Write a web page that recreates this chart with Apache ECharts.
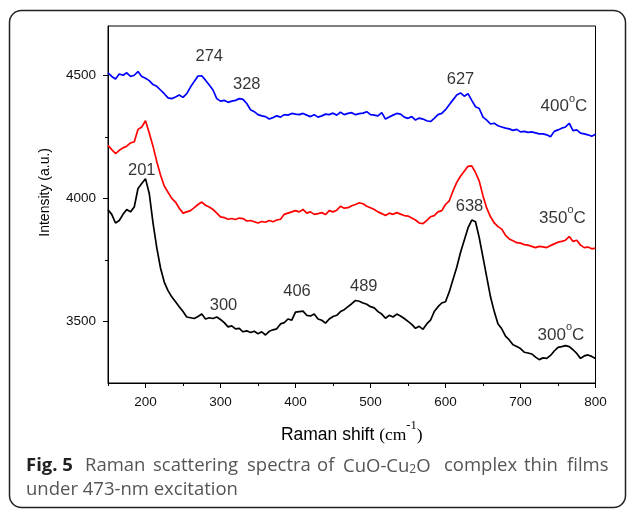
<!DOCTYPE html>
<html>
<head>
<meta charset="utf-8">
<script src="https://cdn.jsdelivr.net/npm/echarts@6/dist/echarts.min.js"></script>
<style>
html,body{margin:0;padding:0;background:#fff;}
#main{width:629px;height:511px;}
</style>
</head>
<body>
<div id="main"></div>
<script>
// Raman shift (cm-1)
var shift = [150,155,160,165,170,175,180,185,190,195,
	200,205,210,215,220,225,230,235,240,245,
	250,255,260,265,270,275,280,285,290,295,
	300,305,310,315,320,325,330,335,340,345,
	350,355,360,365,370,375,380,385,390,395,
	400,405,410,415,420,425,430,435,440,445,
	450,455,460,465,470,475,480,485,490,495,
	500,505,510,515,520,525,530,535,540,545,
	550,555,560,565,570,575,580,585,590,595,
	600,605,610,615,620,625,630,635,640,645,
	650,655,660,665,670,675,680,685,690,695,
	700,705,710,715,720,725,730,735,740,745,
	750,755,760,765,770,775,780,785,790,795,
	800];
// 400°C
var t400 = [4510,4495,4485,4505,4500,4510,4495,4500,4515,4495,
	4488,4478,4462,4455,4440,4425,4408,4405,4412,4420,
	4410,4425,4452,4475,4497,4498,4480,4460,4440,4405,
	4395,4398,4390,4395,4398,4405,4402,4385,4360,4352,
	4340,4335,4332,4322,4328,4335,4330,4340,4338,4345,
	4342,4340,4345,4338,4332,4340,4330,4335,4342,4340,
	4346,4338,4350,4340,4345,4348,4340,4344,4346,4352,
	4340,4338,4335,4348,4322,4330,4338,4345,4342,4330,
	4325,4332,4318,4326,4322,4315,4312,4325,4340,4345,
	4360,4380,4400,4420,4428,4415,4425,4398,4372,4365,
	4330,4318,4302,4305,4295,4290,4285,4282,4276,4280,
	4270,4272,4268,4270,4266,4262,4262,4258,4250,4272,
	4278,4285,4290,4305,4275,4278,4265,4262,4258,4252,
	4260];
// 350°C
var t350 = [4215,4198,4182,4195,4205,4212,4225,4230,4280,4290,
	4315,4265,4212,4150,4095,4050,4025,4000,3985,3960,
	3940,3945,3950,3962,3975,3985,3972,3965,3955,3940,
	3925,3922,3915,3918,3914,3920,3918,3908,3910,3905,
	3900,3906,3903,3910,3905,3912,3915,3935,3940,3945,
	3950,3945,3955,3940,3945,3935,3938,3942,3934,3950,
	3945,3952,3968,3960,3962,3970,3975,3982,3978,3968,
	3962,3955,3945,3938,3930,3940,3935,3942,3936,3930,
	3928,3920,3912,3900,3897,3910,3925,3930,3945,3950,
	3975,3990,4030,4065,4090,4110,4130,4132,4105,4070,
	4010,3960,3925,3900,3885,3875,3850,3835,3828,3820,
	3818,3812,3810,3805,3800,3805,3803,3800,3808,3815,
	3822,3825,3830,3845,3825,3830,3810,3800,3802,3795,
	3798];
// 300°C
var t300 = [3954,3935,3900,3910,3935,3955,3945,3965,4040,4060,
	4080,4020,3900,3800,3717,3660,3625,3600,3580,3560,
	3540,3518,3515,3512,3520,3530,3510,3515,3512,3518,
	3508,3495,3478,3482,3470,3472,3458,3462,3455,3460,
	3450,3458,3445,3460,3466,3470,3490,3495,3510,3505,
	3538,3540,3542,3525,3522,3530,3510,3505,3493,3510,
	3520,3525,3540,3548,3560,3572,3585,3582,3575,3570,
	3560,3555,3540,3530,3513,3525,3518,3530,3522,3512,
	3500,3488,3472,3480,3468,3490,3505,3540,3560,3575,
	3580,3620,3670,3720,3780,3830,3880,3912,3905,3840,
	3760,3680,3600,3540,3490,3470,3440,3425,3405,3398,
	3390,3375,3372,3368,3355,3345,3352,3350,3362,3380,
	3395,3398,3402,3398,3385,3370,3350,3360,3364,3358,
	3350];

var xMajor = [200,300,400,500,600,700,800];
var xMinor = [150,250,350,450,550,650,750];
var yMajor = [3500,4000,4500];
var yMinor = [3750,4250];

// 峰值标注: 文本, x, y
var peakText = ['274','328','627','201','638','300','406','489'];
var peakX = [285,335,620,195,632,304,402,491];
var peakY = [4577,4463,4484,4114,3967,3563,3622,3641];
// 温度标注
var tempText = ['400','350','300'];
var tempX = [758,756,754];
var tempY = [4382,3930,3455];

function pairs(xs, ys){
	var out = [];
	for (var i = 0; i < xs.length; i++) out.push([xs[i], ys[i]]);
	return out;
}

var myChart = echarts.init(document.getElementById('main'));

var peakData = [];
for (var i = 0; i < peakText.length; i++) {
	peakData.push({name: peakText[i], value: [peakX[i], peakY[i]]});
}
var tempData = [];
for (var j = 0; j < tempText.length; j++) {
	tempData.push({name: tempText[j], value: [tempX[j], tempY[j]]});
}

var tickFont = {color: '#111', fontFamily: 'Liberation Sans', fontSize: 13.5};
var capFont = '18.5px "Open Sans"';
var capColor = '#555';

function word(txt, x){
	return {type: 'text', x: x, y: 466, silent: true,
		style: {text: txt, fill: capColor, font: capFont, verticalAlign: 'middle'}};
}

var option = {
	animation: false,
	backgroundColor: '#fff',
	grid: {left: 108, right: 33.5, top: 26, bottom: 128, show: true, borderColor: '#000', borderWidth: 1},
	xAxis: [{
		type: 'value', min: 150, max: 800,
		axisLine: {lineStyle: {color: '#000', width: 1}},
		axisTick: {customValues: xMajor, length: 5, lineStyle: {color: '#000'}},
		axisLabel: Object.assign({customValues: xMajor, margin: 12, formatter: function(v){ return String(v); }}, tickFont),
		splitLine: {show: false},
		name: '{a|Raman shift }{b|(cm}{c|-1}{b|)}',
		nameLocation: 'middle', nameGap: 36,
		nameTextStyle: {
			rich: {
				a: {fontFamily: 'Liberation Sans', fontSize: 17.5, color: '#000', lineHeight: 25, verticalAlign: 'bottom'},
				b: {fontFamily: 'Liberation Serif', fontSize: 17.5, color: '#000', lineHeight: 25, verticalAlign: 'bottom'},
				c: {fontFamily: 'Liberation Serif', fontSize: 12.5, color: '#000', lineHeight: 12, verticalAlign: 'top'}
			}
		}
	}, {
		type: 'value', min: 150, max: 800, position: 'bottom',
		axisLine: {show: false},
		axisTick: {customValues: xMinor, length: 3, lineStyle: {color: '#000'}},
		axisLabel: {show: false},
		splitLine: {show: false}
	}],
	yAxis: [{
		type: 'value', min: 3250, max: 4700,
		axisLine: {show: true, lineStyle: {color: '#000', width: 1}},
		axisTick: {show: true, customValues: yMajor, length: 5, lineStyle: {color: '#000'}},
		axisLabel: Object.assign({customValues: yMajor, margin: 12, formatter: function(v){ return String(v); }}, tickFont),
		splitLine: {show: false}
	}, {
		type: 'value', min: 3250, max: 4700, position: 'left',
		axisLine: {show: false},
		axisTick: {show: true, customValues: yMinor, length: 3, lineStyle: {color: '#000'}},
		axisLabel: {show: false},
		splitLine: {show: false}
	}],
	series: [{
		name: '400°C', type: 'line', data: pairs(shift, t400), showSymbol: false,
		lineStyle: {color: '#0000ff', width: 1.7}, itemStyle: {color: '#0000ff'}
	}, {
		name: '350°C', type: 'line', data: pairs(shift, t350), showSymbol: false,
		lineStyle: {color: '#ff0000', width: 1.7}, itemStyle: {color: '#ff0000'}
	}, {
		name: '300°C', type: 'line', data: pairs(shift, t300), showSymbol: false,
		lineStyle: {color: '#000000', width: 1.7}, itemStyle: {color: '#000'}
	}, {
		type: 'scatter', data: peakData, symbolSize: 0, silent: true,
		label: {show: true, position: 'inside', formatter: '{b}', color: '#000',
			fontFamily: 'Liberation Sans', fontSize: 16.5}
	}, {
		type: 'scatter', data: tempData, symbolSize: 0, silent: true,
		label: {show: true, position: 'inside', formatter: '{n|{b}}{o|o}{n|C}',
			rich: {
				n: {fontFamily: 'Liberation Sans', fontSize: 17, color: '#000', lineHeight: 22, verticalAlign: 'bottom'},
				o: {fontFamily: 'Liberation Sans', fontSize: 11, color: '#000', lineHeight: 11, verticalAlign: 'top'}
			}}
	}],
	graphic: [{
		type: 'rect', silent: true, z: -1,
		shape: {x: 9.5, y: 10.5, width: 616, height: 497, r: 12},
		style: {fill: 'none', stroke: '#222', lineWidth: 1.5}
	}, {
		type: 'text', left: 38, top: 148, rotation: Math.PI / 2,
		style: {text: 'Intensity (a.u.)', fill: '#000', font: '14px "Liberation Sans"'}
	}, {
		type: 'text', x: 26, y: 466,
		style: {text: 'Fig. 5', fill: '#222', font: 'bold 18.5px "Open Sans"', verticalAlign: 'middle'}
	},
	word('Raman', 85), word('scattering', 153), word('spectra', 247), word('of', 317),
	{
		type: 'text', x: 343, y: 464, silent: true, style: {
			text: '{t|CuO-Cu}{s|2}{t|O}', verticalAlign: 'middle',
			rich: {
				t: {fill: capColor, fontFamily: 'Open Sans', fontSize: 18.5, lineHeight: 24, verticalAlign: 'bottom'},
				s: {fill: capColor, fontFamily: 'Open Sans', fontSize: 12, lineHeight: 12, verticalAlign: 'bottom'}
			}
		}
	},
	word('complex', 444), word('thin', 524), word('films', 567),
	{
		type: 'text', x: 26, y: 490, silent: true,
		style: {text: 'under 473-nm excitation', fill: capColor, font: capFont, verticalAlign: 'middle'}
	}]
};

myChart.setOption(option);
</script>
</body>
</html>
